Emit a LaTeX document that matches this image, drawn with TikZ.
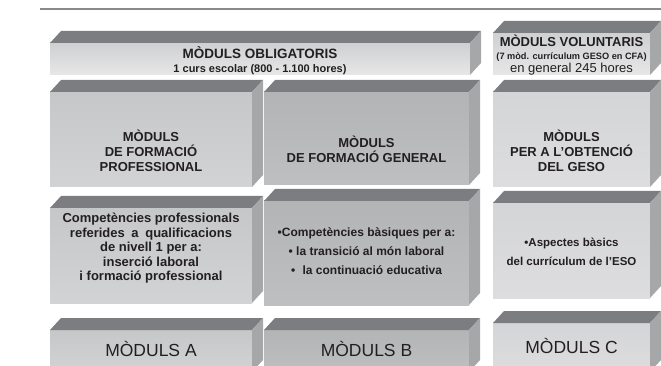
\documentclass[tikz,border=0pt]{standalone}
\usepackage{fontspec}
\setmainfont{Liberation Sans}
\usetikzlibrary{calc}

\definecolor{topface}{HTML}{7C7D80}
\definecolor{sideface}{HTML}{A6A7A9}
\definecolor{txt}{HTML}{231F20}
\definecolor{rulegray}{HTML}{8A8A8C}
\definecolor{lightA}{HTML}{CFD0D2}
\definecolor{lightB}{HTML}{E7E7E8}
\definecolor{leftA}{HTML}{C6C7C9}
\definecolor{leftB}{HTML}{D2D3D5}
\definecolor{midA}{HTML}{B3B4B6}
\definecolor{midB}{HTML}{BEBFC1}
\definecolor{rightA}{HTML}{D4D5D7}
\definecolor{rightB}{HTML}{DDDDDF}

\tikzset{
  front/.style={inner sep=0pt, outer sep=0pt},
  lbl/.style={align=center, text=txt, inner sep=0pt},
}

\begin{document}
\begin{tikzpicture}[x=1pt,y=-1pt]
\useasboundingbox (0,0) rectangle (661,366);

% Rule at the top
\coordinate (ruleL) at (40,9);
\coordinate (ruleR) at (661,9);
\draw[rulegray, line width=1.5pt] (ruleL) -- (ruleR);

% Boxes: name / left / top / right / bottom / colours of the front
\foreach \n/\xa/\ya/\xb/\yb/\ca/\cb in {
  obl/50/43/470/75/lightA/lightB,
  vol/493/33/650/75/lightA/lightB,
  fp/50/92/252/187/leftA/leftB,
  fg/264/92/469/185/midA/midB,
  geso/493/92/650/187/rightA/rightB,
  cp/50/208/252/303/leftA/leftB,
  cb/264/201/469/305/midA/midB,
  ab/493/203/650/298/rightA/rightB,
  ma/50/330/252/372/leftA/leftB,
  mb/264/330/469/372/midA/midB,
  mc/493/323/650/372/rightA/rightB}
{
  \node[front, top color=\ca, bottom color=\cb,
        minimum width=\xb-\xa, minimum height=\yb-\ya]
        (\n) at ({(\xa+\xb)/2},{(\ya+\yb)/2}) {};
  % top and side faces
  \fill[topface] (\n.north west) -- ++(11,-12)
    -- ($(\n.north east)+(11,-12)$) -- (\n.north east) -- cycle;
  \fill[sideface] (\n.north east) -- ++(11,-12)
    -- ($(\n.south east)+(11,-12)$) -- (\n.south east) -- cycle;
}

% Header row
\node[lbl, font=\bfseries\fontsize{11}{14}\selectfont] (tObl) at ($(obl.center)+(0,1.5)$)
  {{\fontsize{13.5}{14}\selectfont MÒDULS OBLIGATORIS}\\1 curs escolar (800 - 1.100 hores)};
\node[lbl, font=\fontsize{13}{13}\selectfont] (tVol) at ($(vol.center)+(0,1)$)
  {{\bfseries\fontsize{13}{13}\selectfont MÒDULS VOLUNTARIS}\\
   {\bfseries\fontsize{9.2}{12}\selectfont (7 mòd. currículum GESO en CFA)}\\en general 245 hores};

% Second row
\node[lbl, font=\bfseries\fontsize{13}{15}\selectfont] (tFp) at ($(fp.center)+(0,11)$)
  {MÒDULS\\DE FORMACIÓ\\PROFESSIONAL};
\node[lbl, font=\bfseries\fontsize{13}{15}\selectfont] (tFg) at ($(fg.center)+(0,11)$)
  {MÒDULS\\DE FORMACIÓ GENERAL};
\node[lbl, font=\bfseries\fontsize{13}{15}\selectfont] (tGeso) at ($(geso.center)+(0,11)$)
  {MÒDULS\\PER A L’OBTENCIÓ\\DEL GESO};

% Third row
\node[lbl, font=\bfseries\fontsize{13}{14.5}\selectfont] (tCp) at ($(cp.center)+(0,-7)$)
  {Competències professionals\\referides\hspace{3pt} a\hspace{3pt} qualificacions\\de nivell 1 per a:\\inserció laboral\\i formació professional};
\node[lbl, font=\bfseries\fontsize{12}{19}\selectfont] (tCb) at ($(cb.center)+(0,-2)$)
  {•Competències bàsiques per a:\\• la transició al món laboral\\•\hspace{4pt} la continuació educativa};
\node[lbl, font=\bfseries\fontsize{11.5}{19}\selectfont] (tAb) at ($(ab.center)+(0,1)$)
  {•Aspectes bàsics\\del currículum de l’ESO};

% Bottom row
\node[lbl, font=\fontsize{17.5}{18}\selectfont] (tMa) at (ma.center |- 0,349) {MÒDULS A};
\node[lbl, font=\fontsize{17.5}{18}\selectfont] (tMb) at (mb.center |- 0,349) {MÒDULS B};
\node[lbl, font=\fontsize{17.5}{18}\selectfont] (tMc) at (mc.center |- 0,346) {MÒDULS C};
\end{tikzpicture}
\end{document}
